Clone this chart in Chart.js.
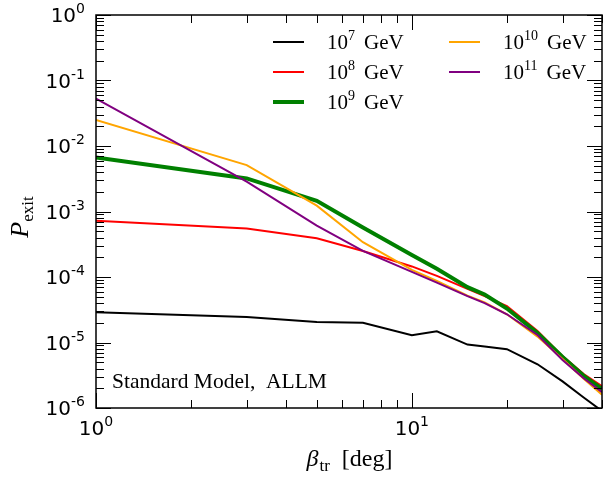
<!DOCTYPE html>
<html>
<head>
<meta charset="utf-8">
<script src="https://cdn.jsdelivr.net/npm/chart.js@4.4.1/dist/chart.umd.min.js"></script>
<style>
  html, body { margin: 0; padding: 0; background: #fff; }
  #wrap { width: 603px; height: 480px; }
</style>
</head>
<body>
<div id="wrap"><canvas id="chart" width="603" height="480"></canvas></div>
<script>
// beta_tr in degrees (x) and exit probability per energy
const betaTr = [1, 3, 5, 7, 10, 12, 15, 17, 20, 25, 30, 35, 40];

const p1e7  = [2.9e-5, 2.45e-5, 2.05e-5, 2.0e-5, 1.29e-5, 1.48e-5, 9.3e-6, 8.7e-6, 7.9e-6, 4.65e-6, 2.55e-6, 1.45e-6, 9.0e-7];
const p1e8  = [7.2e-4, 5.5e-4, 3.9e-4, 2.5e-4, 1.45e-4, 1.04e-4, 6.6e-5, 5.1e-5, 3.6e-5, 1.5e-5, 6.2e-6, 3.3e-6, 2.15e-6];
const p1e9  = [6.7e-3, 3.2e-3, 1.46e-3, 5.7e-4, 2.17e-4, 1.34e-4, 7.0e-5, 5.4e-5, 3.3e-5, 1.4e-5, 6.0e-6, 3.1e-6, 1.95e-6];
const p1e10 = [2.5e-2, 5.1e-3, 1.23e-3, 3.4e-4, 1.28e-4, 8.7e-5, 5.2e-5, 4.1e-5, 2.7e-5, 1.23e-5, 5.6e-6, 2.8e-6, 1.6e-6];
const p1e11 = [5.3e-2, 2.85e-3, 6.1e-4, 2.5e-4, 1.2e-4, 8.2e-5, 5.1e-5, 4.0e-5, 2.7e-5, 1.3e-5, 5.4e-6, 2.85e-6, 1.75e-6];

const energyExp = ['7', '8', '9', '10', '11'];
const seriesColors = ['#000000', '#ff0000', '#008000', '#ffa500', '#800080'];
const seriesWidths = [2, 2, 4, 2, 2];

const xTickExps = [0, 1];
const yTickExps = [0, -1, -2, -3, -4, -5, -6];

const SANS = "'DejaVu Sans', sans-serif";
const SERIF = "'Liberation Serif', serif";

const allSeries = [p1e7, p1e8, p1e9, p1e10, p1e11];
const datasets = allSeries.map((vals, i) => ({
    label: '10^' + energyExp[i] + ' GeV',
    data: betaTr.map((b, j) => ({ x: b, y: vals[j] })),
    borderColor: seriesColors[i],
    borderWidth: seriesWidths[i],
    pointRadius: 0,
    tension: 0,
    fill: false,
    order: allSeries.length - i
}));

// draws "10" with a raised exponent; align: 'center', 'right' or 'left'
function drawPow(ctx, base, exp, x, y, baseFont, expFont, rise, align) {
    ctx.font = baseFont;
    const wb = ctx.measureText(base).width;
    ctx.font = expFont;
    const we = ctx.measureText(exp).width;
    let x0 = x;
    if (align === 'center') x0 = x - (wb + we) / 2;
    else if (align === 'right') x0 = x - (wb + we);
    ctx.textAlign = 'left';
    ctx.textBaseline = 'alphabetic';
    ctx.font = baseFont;
    ctx.fillText(base, x0, y);
    ctx.font = expFont;
    ctx.fillText(exp, x0 + wb, y - rise);
    return x0 + wb + we;
}

const decorPlugin = {
    id: 'decor',
    afterDraw(chart) {
        const ctx = chart.ctx;
        const a = chart.chartArea;
        const xs = chart.scales.x;
        const ys = chart.scales.y;
        ctx.save();
        ctx.fillStyle = '#000';
        ctx.strokeStyle = '#000';

        // ticks (inward, all four sides)
        ctx.lineWidth = 1;
        ctx.beginPath();
        for (let d = 0; d <= 1; d++) {
            for (let m = 1; m <= 9; m++) {
                const v = m * Math.pow(10, d);
                if (v < 1 || v > 40) continue;
                const px = Math.round(xs.getPixelForValue(v)) + 0.5;
                const len = m === 1 ? 15 : 8;
                ctx.moveTo(px, a.bottom); ctx.lineTo(px, a.bottom - len);
                ctx.moveTo(px, a.top); ctx.lineTo(px, a.top + len);
            }
        }
        for (let d = -6; d <= 0; d++) {
            for (let m = 1; m <= 9; m++) {
                const v = m * Math.pow(10, d);
                if (v > 1) continue;
                const py = Math.round(ys.getPixelForValue(v)) + 0.5;
                const len = m === 1 ? 15 : 8;
                ctx.moveTo(a.left, py); ctx.lineTo(a.left + len, py);
                ctx.moveTo(a.right, py); ctx.lineTo(a.right - len, py);
            }
        }
        ctx.stroke();

        // frame
        ctx.lineWidth = 1.5;
        ctx.strokeRect(a.left, a.top, a.right - a.left, a.bottom - a.top);

        // tick labels
        yTickExps.forEach(e => {
            const py = ys.getPixelForValue(Math.pow(10, e));
            drawPow(ctx, '10', String(e), a.left - 11, py + 7,
                '20px ' + SANS, '14px ' + SANS, 9, 'right');
        });
        xTickExps.forEach(e => {
            const px = xs.getPixelForValue(Math.pow(10, e));
            drawPow(ctx, '10', String(e), px, a.bottom + 27,
                '20px ' + SANS, '14px ' + SANS, 9, 'center');
        });

        // x axis title
        ctx.textBaseline = 'alphabetic';
        ctx.textAlign = 'left';
        const fBeta = 'italic 24px ' + SERIF;
        const fSub = '17px ' + SERIF;
        const fMain = '24px ' + SERIF;
        const gap = 12;
        ctx.font = fBeta; const wB = ctx.measureText('\u03b2').width;
        ctx.font = fSub; const wS = ctx.measureText('tr').width;
        ctx.font = fMain; const wD = ctx.measureText('[deg]').width;
        let tx = (a.left + a.right) / 2 - (wB + wS + gap + wD) / 2;
        const ty = 466;
        ctx.font = fBeta; ctx.fillText('\u03b2', tx, ty); tx += wB + 1;
        ctx.font = fSub; ctx.fillText('tr', tx, ty + 5); tx += wS + gap;
        ctx.font = fMain; ctx.fillText('[deg]', tx, ty);

        // y axis title
        ctx.save();
        ctx.translate(28, 217);
        ctx.rotate(-Math.PI / 2);
        const fP = 'italic 26px ' + SERIF;
        const fE = '17px ' + SERIF;
        ctx.font = fP; const wP = ctx.measureText('P').width;
        ctx.font = fE; const wE = ctx.measureText('exit').width;
        let ly = -(wP + wE) / 2;
        ctx.font = fP; ctx.fillText('P', ly, 0); ly += wP;
        ctx.font = fE; ctx.fillText('exit', ly, 5);
        ctx.restore();

        // legend, two columns
        const legX = [273, 449];
        const legY = [42, 72, 102];
        datasets.forEach((ds, i) => {
            const col = i < 3 ? 0 : 1;
            const row = i < 3 ? i : i - 3;
            const lx = legX[col];
            const ly2 = legY[row];
            ctx.strokeStyle = ds.borderColor;
            ctx.lineWidth = ds.borderWidth;
            ctx.beginPath();
            ctx.moveTo(lx, ly2); ctx.lineTo(lx + 31, ly2);
            ctx.stroke();
            ctx.fillStyle = '#000';
            const end = drawPow(ctx, '10', energyExp[i], lx + 54, ly2 + 7,
                '21px ' + SERIF, '14px ' + SERIF, 9, 'left');
            ctx.font = '21px ' + SERIF;
            ctx.fillText('GeV', end + 9, ly2 + 7);
        });

        // annotation
        ctx.fillStyle = '#000';
        ctx.font = '21.5px ' + SERIF;
        ctx.textAlign = 'left';
        ctx.fillText('Standard Model,  ALLM', 112, 388);

        ctx.restore();
    }
};

new Chart(document.getElementById('chart'), {
    type: 'line',
    data: { datasets: datasets },
    options: {
        responsive: false,
        animation: false,
        layout: { padding: { left: 96, right: 1, top: 15, bottom: 72 } },
        plugins: {
            legend: { display: false },
            tooltip: { enabled: false }
        },
        scales: {
            x: { type: 'logarithmic', min: 1, max: 40, display: false },
            y: { type: 'logarithmic', min: 1e-6, max: 1, display: false }
        }
    },
    plugins: [decorPlugin]
});
</script>
</body>
</html>
